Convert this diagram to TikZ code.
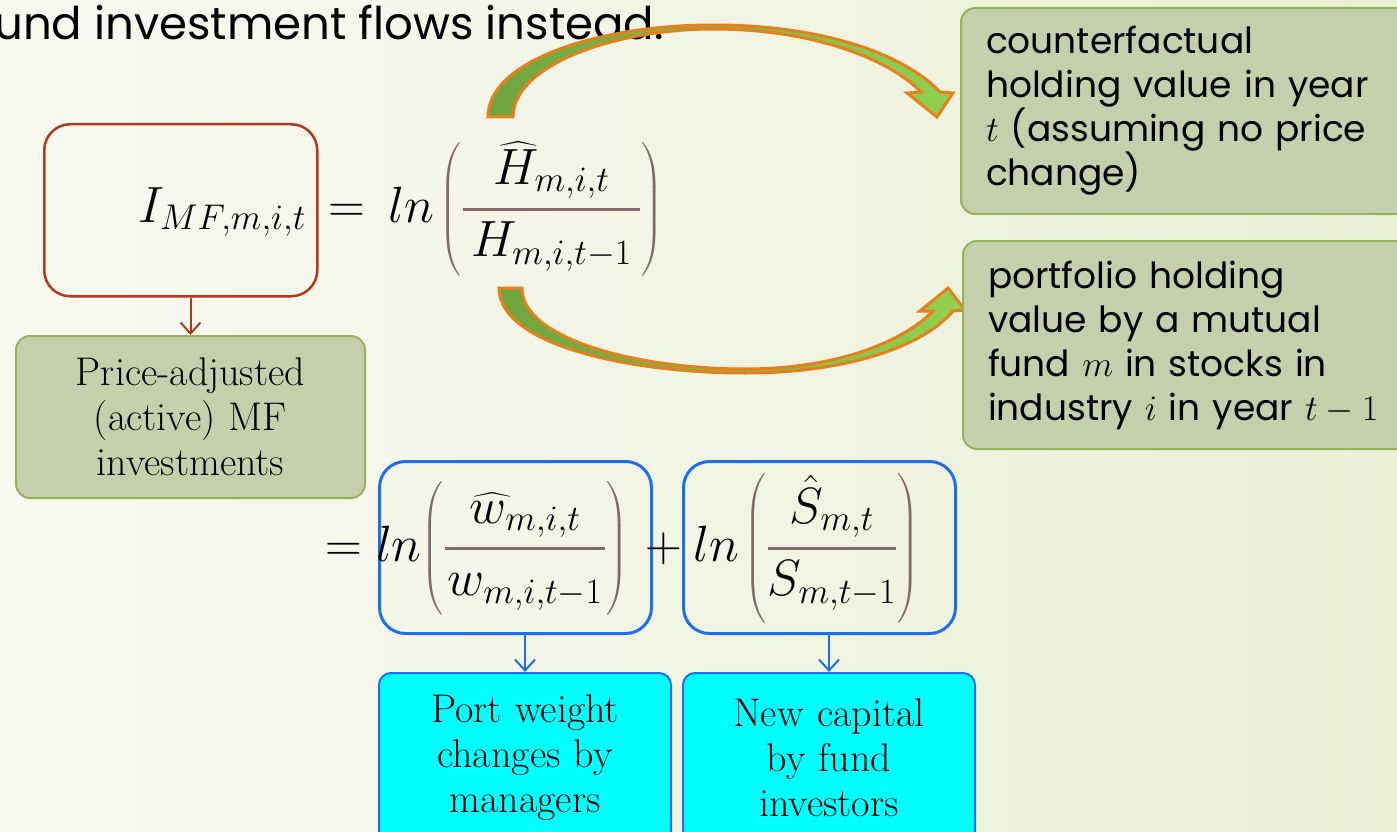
\RequirePackage{fix-cm}
\documentclass[tikz,border=0pt]{standalone}
\usepackage{fontspec}
\usepackage{amsmath}
\newfontfamily\gothic{Poppins}
\usetikzlibrary{arrows.meta}
\definecolor{bgl}{RGB}{248,249,240}
\definecolor{bgr}{RGB}{234,240,214}
\definecolor{redc}{RGB}{178,58,28}
\definecolor{olivefill}{RGB}{196,208,172}
\definecolor{olivedraw}{RGB}{152,178,92}
\definecolor{bluec}{RGB}{30,110,240}
\definecolor{cyanfill}{RGB}{0,255,255}
\definecolor{arrdark}{RGB}{112,164,62}
\definecolor{arrlight}{RGB}{146,208,80}
\definecolor{arrorange}{RGB}{230,128,30}
\definecolor{pc}{RGB}{130,106,106}
% #1 kern after ln, #2 padding of fraction, #3 numerator, #4 denominator
\newcommand\lnfrac[4]{ln\mkern#1mu{\color{pc}\left(\genfrac{}{}{3pt}{0}{\color{black}\mkern#2mu#3\mkern#2mu}{\color{black}\mkern#2mu#4\mkern#2mu}\right)}}
\begin{document}
\begin{tikzpicture}[x=1pt,y=-1pt,
  redbox/.style={draw=redc,line width=2.5pt,rounded corners=26pt,inner sep=0pt},
  olivebox/.style={draw=olivedraw,fill=olivefill,line width=2pt,rounded corners=14pt},
  bluebox/.style={draw=bluec,line width=3pt,rounded corners=26pt,inner sep=0pt},
  cyanbox/.style={draw=bluec,fill=cyanfill,line width=2pt,rounded corners=12pt},
  serifbox/.style={font=\fontsize{40}{45}\selectfont,align=center,inner xsep=0pt},
  sansbox/.style={font=\gothic\fontsize{36}{44}\selectfont,align=left,text width=400pt,inner xsep=25pt},
  blockarrow/.style={draw=arrorange,line width=3pt,left color=arrdark,right color=arrlight},
  redarrow/.style={draw=redc,line width=2pt,-{Straight Barb[length=11pt,width=20pt,line width=2pt]}},
  bluearrow/.style={draw=bluec,line width=2pt,-{Straight Barb[length=11pt,width=20pt,line width=2pt]}},
  mathtxt/.style={font=\fontsize{51}{60}\selectfont,inner sep=0pt,anchor=base west}
]
\useasboundingbox (0,0) rectangle (1397,832);
\clip (0,0) rectangle (1397,832);
\shade[left color=bgl,right color=bgr] (0,0) rectangle (1397,832);

% title
\node[anchor=base west,inner sep=0pt,font=\gothic\fontsize{45}{54}\selectfont] (title) at (-6,40) {und investment flows instead.};

% block arrows
\path[blockarrow] (488,117) .. controls (488,60) and (600,25) .. (713,25)
  .. controls (825,25) and (905,55) .. (940,92) -- (953,93) -- (937,117) -- (907,93) -- (921,92)
  .. controls (890,60) and (815,29) .. (713,29)
  .. controls (615,29) and (513,65) .. (513,117) -- cycle;
\path[blockarrow] (499,288) .. controls (499,345) and (630,373) .. (745,373)
  .. controls (850,373) and (925,345) .. (953,311) -- (965,310) -- (948,288) -- (920,311) -- (933,311)
  .. controls (905,340) and (840,369) .. (745,369)
  .. controls (640,369) and (522,340) .. (522,288) -- cycle;

% red box + equation
\node[redbox,minimum width=273pt,minimum height=172pt,anchor=north west] (rb) at (43,123) {};
\node[mathtxt] (eq1) at (138,222) {$\displaystyle I_{MF,m,i,t}\mkern3mu=\mkern3mu\lnfrac{2}{3}{\widehat{H}_{m,i,t}}{H_{m,i,t-1}}$};

% price-adjusted box
\node[olivebox,serifbox,text width=330pt,minimum width=349pt,minimum height=162pt,anchor=north west] (pa) at (15,335) {Price-adjusted\\(active) MF\\investments};
\draw[redarrow] (rb.south -| pa.north) -- (pa.north);

% right boxes
\node[olivebox,sansbox,minimum height=206pt,anchor=north west] (cf) at (960,7) {counterfactual\\holding value in year\\$t$ (assuming no price\\change)};
\node[olivebox,sansbox,minimum height=208pt,anchor=north west] (ph) at (962,240) {portfolio holding\\value by a mutual\\fund $m$ in stocks in\\industry $i$ in year $t-1$};

% blue boxes + equation
\node[bluebox,minimum width=272pt,minimum height=172pt,anchor=north west] (b1) at (378,460) {};
\node[bluebox,minimum width=272pt,minimum height=172pt,anchor=north west] (b2) at (682,460) {};
\node[mathtxt] (eq2) at (325,561) {$\displaystyle =\lnfrac{0}{1}{\widehat{w}_{m,i,t}}{w_{m,i,t-1}}\mkern2mu+\lnfrac{2}{0}{\hat{S}_{m,t}}{S_{m,t-1}}$};

% cyan boxes
\node[cyanbox,serifbox,text width=280pt,minimum width=292pt,minimum height=170pt,anchor=north west] (c1) at (378,672) {Port weight\\changes by\\managers};
\node[cyanbox,serifbox,text width=280pt,minimum width=292pt,minimum height=170pt,anchor=north west] (c2) at (682,672) {New capital\\by fund\\investors};
\draw[bluearrow] (b1.south -| c1.north) -- (c1.north);
\draw[bluearrow] (b2.south -| c2.north) -- (c2.north);
\end{tikzpicture}
\end{document}
